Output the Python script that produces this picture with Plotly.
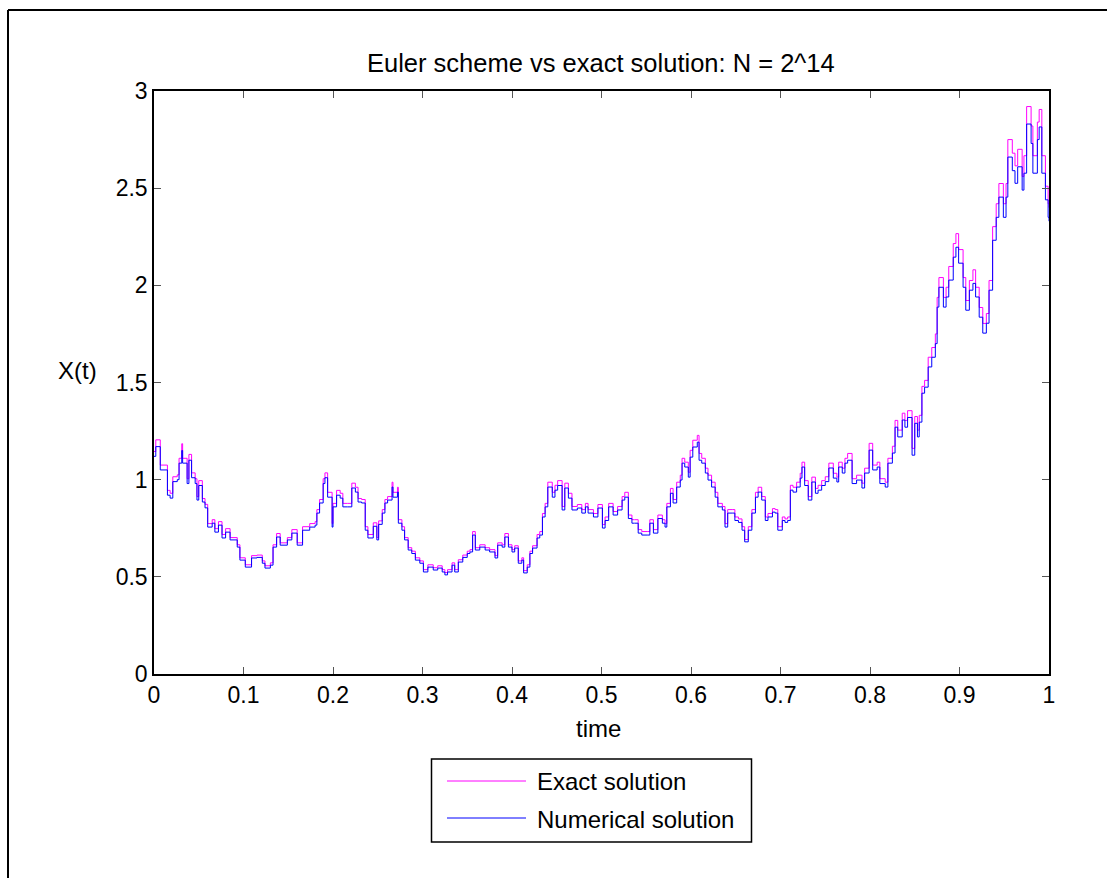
import plotly.graph_objects as go

# Sample path of the SDE on [0, 1]: Euler scheme vs exact solution
t = [
    0.000, 0.002, 0.007, 0.015, 0.018, 0.021, 0.026, 0.028, 0.031, 0.032,
    0.037, 0.039, 0.042, 0.046, 0.048, 0.050, 0.054, 0.057, 0.060, 0.065,
    0.068, 0.072, 0.076, 0.080, 0.085, 0.093, 0.096, 0.102, 0.105, 0.109,
    0.115, 0.121, 0.124, 0.130, 0.133, 0.137, 0.141, 0.149, 0.154, 0.160,
    0.166, 0.174, 0.180, 0.182, 0.185, 0.189, 0.191, 0.194, 0.199, 0.200,
    0.204, 0.208, 0.211, 0.216, 0.221, 0.225, 0.228, 0.232, 0.236, 0.239,
    0.245, 0.249, 0.251, 0.255, 0.258, 0.261, 0.266, 0.267, 0.272, 0.273,
    0.277, 0.280, 0.284, 0.288, 0.292, 0.297, 0.301, 0.306, 0.312, 0.317,
    0.322, 0.325, 0.328, 0.333, 0.336, 0.340, 0.345, 0.350, 0.353, 0.356,
    0.359, 0.364, 0.370, 0.375, 0.381, 0.384, 0.389, 0.392, 0.396, 0.400,
    0.403, 0.407, 0.411, 0.413, 0.417, 0.420, 0.423, 0.428, 0.431, 0.434,
    0.437, 0.440, 0.445, 0.448, 0.451, 0.456, 0.459, 0.463, 0.467, 0.473,
    0.478, 0.482, 0.485, 0.491, 0.496, 0.501, 0.504, 0.508, 0.513, 0.518,
    0.523, 0.526, 0.530, 0.534, 0.537, 0.541, 0.545, 0.551, 0.554, 0.558,
    0.563, 0.568, 0.571, 0.573, 0.577, 0.580, 0.584, 0.588, 0.590, 0.593,
    0.597, 0.599, 0.602, 0.607, 0.609, 0.612, 0.616, 0.619, 0.623, 0.627,
    0.630, 0.635, 0.638, 0.641, 0.646, 0.649, 0.653, 0.657, 0.660, 0.664,
    0.668, 0.672, 0.675, 0.679, 0.683, 0.686, 0.691, 0.694, 0.697, 0.702,
    0.705, 0.708, 0.711, 0.714, 0.718, 0.722, 0.724, 0.727, 0.731, 0.735,
    0.739, 0.742, 0.746, 0.750, 0.754, 0.759, 0.763, 0.765, 0.769, 0.772,
    0.775, 0.780, 0.785, 0.791, 0.794, 0.799, 0.803, 0.808, 0.811, 0.817,
    0.820, 0.825, 0.828, 0.831, 0.836, 0.839, 0.842, 0.847, 0.850, 0.853,
    0.855, 0.858, 0.861, 0.865, 0.869, 0.873, 0.875, 0.877, 0.882, 0.885,
    0.888, 0.893, 0.896, 0.899, 0.904, 0.907, 0.911, 0.915, 0.918, 0.922,
    0.926, 0.930, 0.933, 0.937, 0.941, 0.944, 0.949, 0.952, 0.954, 0.959,
    0.962, 0.965, 0.970, 0.972, 0.975, 0.980, 0.982, 0.987, 0.989, 0.992,
    0.996, 0.999, 1.000,
]

numerical = [
    1.12, 1.17, 1.05, 0.92, 0.905, 0.99, 1.00, 1.085, 1.15, 1.085,
    0.98, 1.10, 1.01, 0.98, 0.895, 0.97, 0.885, 0.855, 0.756, 0.776,
    0.73, 0.766, 0.70, 0.73, 0.69, 0.653, 0.586, 0.55, 0.55, 0.597,
    0.60, 0.57, 0.545, 0.56, 0.653, 0.705, 0.663, 0.69, 0.725, 0.663,
    0.74, 0.756, 0.766, 0.828, 0.88, 0.98, 1.01, 0.91, 0.756, 0.86,
    0.92, 0.905, 0.86, 0.86, 0.957, 0.936, 0.885, 0.88, 0.74, 0.70,
    0.76, 0.69, 0.77, 0.828, 0.88, 0.895, 0.962, 0.91, 0.936, 0.776,
    0.74, 0.69, 0.638, 0.62, 0.586, 0.57, 0.525, 0.55, 0.535, 0.545,
    0.525, 0.51, 0.525, 0.56, 0.525, 0.576, 0.60, 0.62, 0.628, 0.715,
    0.638, 0.653, 0.638, 0.628, 0.597, 0.663, 0.653, 0.705, 0.653, 0.628,
    0.648, 0.57, 0.586, 0.52, 0.55, 0.62, 0.648, 0.70, 0.715, 0.808,
    0.86, 0.962, 0.91, 0.946, 0.97, 0.844, 0.957, 0.905, 0.844, 0.854,
    0.828, 0.86, 0.828, 0.808, 0.854, 0.751, 0.79, 0.86, 0.818, 0.844,
    0.895, 0.91, 0.80, 0.776, 0.776, 0.725, 0.715, 0.715, 0.776, 0.725,
    0.80, 0.776, 0.756, 0.86, 0.93, 0.88, 0.962, 0.998, 1.085, 1.065,
    1.013, 1.116, 1.168, 1.193, 1.10, 1.085, 1.034, 0.998, 0.962, 0.91,
    0.86, 0.844, 0.756, 0.828, 0.828, 0.79, 0.78, 0.74, 0.68, 0.74,
    0.828, 0.91, 0.936, 0.895, 0.79, 0.808, 0.833, 0.828, 0.74, 0.79,
    0.78, 0.79, 0.946, 0.936, 0.962, 1.008, 1.065, 0.97, 0.895, 0.988,
    0.93, 0.946, 0.97, 0.99, 1.06, 1.008, 0.988, 1.065, 1.034, 1.085,
    1.10, 0.98, 0.998, 0.957, 1.034, 1.152, 1.05, 1.065, 0.98, 0.962,
    1.085, 1.137, 1.27, 1.22, 1.307, 1.27, 1.32, 1.126, 1.29, 1.22,
    1.296, 1.445, 1.476, 1.58, 1.63, 1.70, 1.888, 1.99, 1.888, 1.94,
    2.027, 2.145, 2.196, 2.114, 1.99, 1.872, 1.975, 2.01, 1.94, 1.836,
    1.754, 1.805, 1.975, 2.232, 2.35, 2.454, 2.35, 2.454, 2.66, 2.59,
    2.525, 2.61, 2.49, 2.577, 2.83, 2.73, 2.577, 2.75, 2.815, 2.577,
    2.44, 2.35, 2.33,
]

exact = [
    1.145, 1.205, 1.075, 0.945, 0.93, 1.015, 1.025, 1.11, 1.185, 1.11,
    1.005, 1.13, 1.035, 1.005, 0.913, 0.995, 0.903, 0.873, 0.774, 0.794,
    0.748, 0.784, 0.718, 0.748, 0.702, 0.665, 0.598, 0.562, 0.562, 0.609,
    0.612, 0.582, 0.557, 0.572, 0.665, 0.723, 0.675, 0.702, 0.743, 0.675,
    0.758, 0.774, 0.784, 0.846, 0.898, 1.005, 1.035, 0.935, 0.774, 0.878,
    0.945, 0.93, 0.878, 0.878, 0.982, 0.961, 0.903, 0.898, 0.758, 0.718,
    0.778, 0.702, 0.788, 0.846, 0.898, 0.913, 0.987, 0.935, 0.961, 0.794,
    0.758, 0.702, 0.65, 0.632, 0.598, 0.582, 0.537, 0.562, 0.547, 0.557,
    0.537, 0.522, 0.537, 0.572, 0.537, 0.588, 0.612, 0.632, 0.64, 0.733,
    0.65, 0.665, 0.65, 0.64, 0.609, 0.675, 0.665, 0.723, 0.665, 0.64,
    0.66, 0.582, 0.598, 0.532, 0.562, 0.632, 0.66, 0.718, 0.733, 0.826,
    0.878, 0.987, 0.935, 0.971, 0.995, 0.862, 0.982, 0.93, 0.862, 0.872,
    0.846, 0.878, 0.846, 0.826, 0.872, 0.769, 0.808, 0.878, 0.836, 0.862,
    0.913, 0.935, 0.818, 0.794, 0.794, 0.743, 0.733, 0.733, 0.794, 0.743,
    0.818, 0.794, 0.774, 0.878, 0.955, 0.898, 0.987, 1.023, 1.11, 1.09,
    1.038, 1.151, 1.203, 1.228, 1.135, 1.11, 1.059, 1.023, 0.987, 0.935,
    0.878, 0.862, 0.774, 0.846, 0.846, 0.808, 0.798, 0.758, 0.692, 0.758,
    0.846, 0.935, 0.961, 0.913, 0.808, 0.826, 0.851, 0.846, 0.758, 0.808,
    0.798, 0.808, 0.971, 0.961, 0.987, 1.033, 1.09, 0.995, 0.913, 1.013,
    0.955, 0.971, 0.995, 1.015, 1.085, 1.033, 1.013, 1.09, 1.059, 1.11,
    1.135, 1.005, 1.023, 0.982, 1.059, 1.187, 1.075, 1.09, 1.005, 0.987,
    1.11, 1.172, 1.305, 1.255, 1.342, 1.305, 1.355, 1.161, 1.325, 1.255,
    1.331, 1.48, 1.511, 1.63, 1.68, 1.75, 1.938, 2.04, 1.938, 1.99,
    2.097, 2.215, 2.266, 2.184, 2.04, 1.922, 2.025, 2.08, 1.99, 1.886,
    1.804, 1.855, 2.025, 2.302, 2.42, 2.524, 2.42, 2.524, 2.75, 2.68,
    2.615, 2.70, 2.56, 2.667, 2.92, 2.82, 2.667, 2.84, 2.905, 2.667,
    2.51, 2.42, 2.40,
]

x_ticks = [0, 0.1, 0.2, 0.3, 0.4, 0.5, 0.6, 0.7, 0.8, 0.9, 1]
x_tick_text = ["0", "0.1", "0.2", "0.3", "0.4", "0.5", "0.6", "0.7", "0.8", "0.9", "1"]
y_ticks = [0, 0.5, 1, 1.5, 2, 2.5, 3]
y_tick_text = ["0", "0.5", "1", "1.5", "2", "2.5", "3"]

series_names = ["Exact solution", "Numerical solution"]
series_colors = ["#FF00FF", "#0000FF"]

# Page geometry (pixels)
W, H = 1107, 878
L, R, T, B = 154, 1049, 91, 674
PW, PH = R - L, B - T


def px(xp):
    return (xp - L) / PW


def py(yp):
    return (B - yp) / PH


FONT = "Liberation Sans, Arial, Helvetica, sans-serif"

fig = go.Figure()
for name, ys, col in zip(series_names, [exact, numerical], series_colors):
    fig.add_trace(go.Scatter(
        x=t, y=ys, mode="lines", name=name,
        line=dict(color=col, width=1, shape="hv"), showlegend=False,
    ))

axis_common = dict(
    showline=True, linecolor="black", linewidth=1.5, mirror="ticks",
    ticks="inside", ticklen=7, tickwidth=1, tickcolor="#555555",
    showgrid=False, zeroline=False,
    tickfont=dict(family=FONT, size=23, color="black"),
)

fig.update_layout(
    width=W, height=H,
    margin=dict(l=L, r=W - R, t=T, b=H - B),
    paper_bgcolor="white", plot_bgcolor="white",
    xaxis=dict(range=[0, 1], tickvals=x_ticks, ticktext=x_tick_text, **axis_common),
    yaxis=dict(range=[0, 3], tickvals=y_ticks, ticktext=y_tick_text, **axis_common),
    font=dict(family=FONT, color="black"),
)

annotations = [
    dict(text="Euler scheme vs exact solution: N = 2^14", x=px(601), y=py(63),
         font=dict(size=25.5)),
    dict(text="time", x=px(598), y=py(728), font=dict(size=24)),
    dict(text="X(t)", x=px(77.5), y=py(370), font=dict(size=24)),
    dict(text=series_names[0], x=px(535), y=py(781), xanchor="left", font=dict(size=24)),
    dict(text=series_names[1], x=px(535), y=py(819), xanchor="left", font=dict(size=24)),
]
for a in annotations:
    a.setdefault("xanchor", "center")
    fig.add_annotation(xref="paper", yref="paper", yanchor="middle",
                       showarrow=False, **a)

shapes = [
    # legend frame and line samples
    dict(type="rect", x0=px(431.5), x1=px(751.5), y0=py(759), y1=py(842),
         line=dict(color="black", width=1.5), fillcolor="white"),
    dict(type="line", x0=px(447), x1=px(526), y0=py(781), y1=py(781),
         line=dict(color=series_colors[0], width=1)),
    dict(type="line", x0=px(447), x1=px(526), y0=py(818), y1=py(818),
         line=dict(color=series_colors[1], width=1)),
    # outer figure frame
    dict(type="line", x0=px(8), x1=px(W + 5), y0=py(10), y1=py(10),
         line=dict(color="black", width=2)),
    dict(type="line", x0=px(8), x1=px(8), y0=py(10), y1=py(H + 5),
         line=dict(color="black", width=2)),
]
for s in shapes:
    fig.add_shape(xref="paper", yref="paper", **s)

fig.write_html("out.html")
